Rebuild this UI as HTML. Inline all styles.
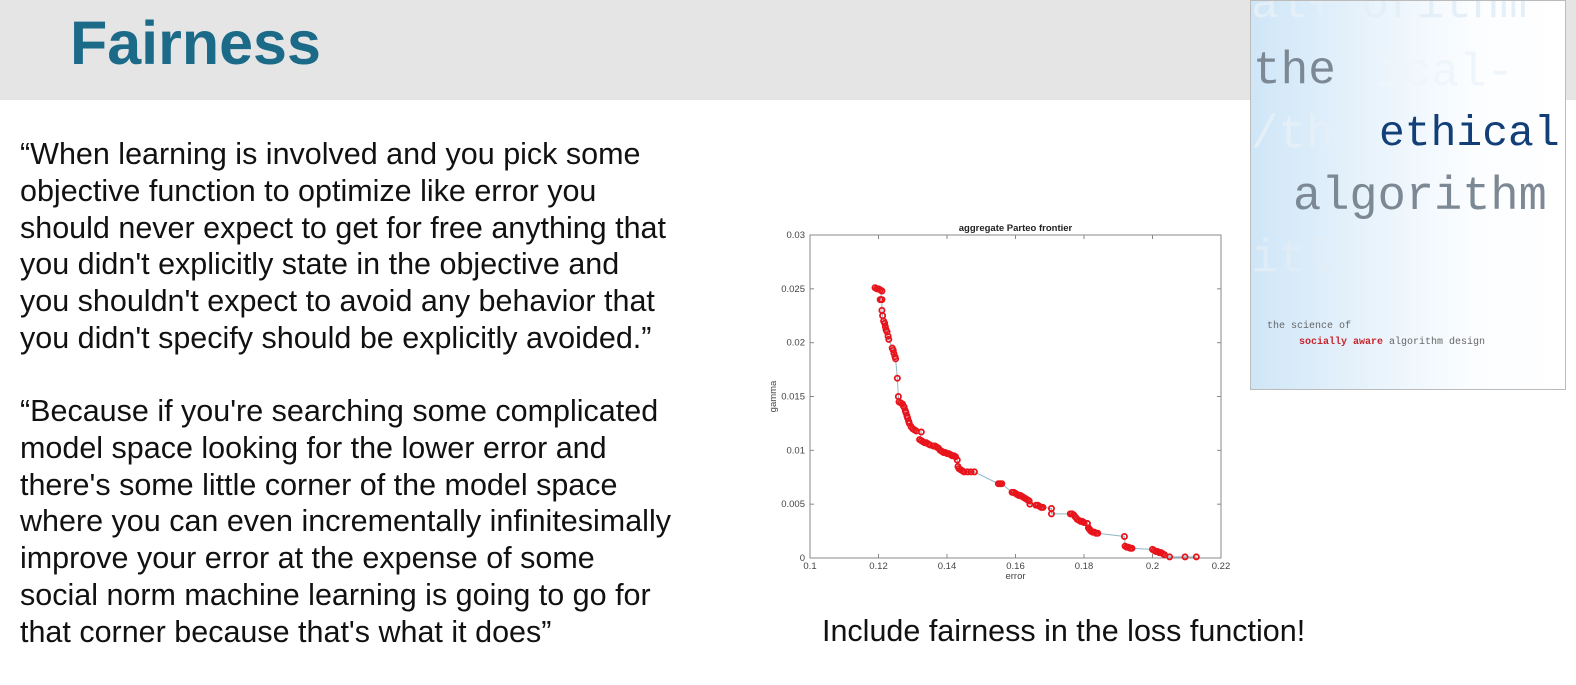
<!DOCTYPE html>
<html><head><meta charset="utf-8"><style>
body{margin:0;width:1576px;height:685px;background:#fff;position:relative;overflow:hidden;font-family:"Liberation Sans",sans-serif}
.hdr{position:absolute;left:0;top:0;width:1576px;height:100px;background:#e5e5e5}
.title{position:absolute;left:70px;top:8px;font-size:61px;font-weight:bold;color:#1b6a88}
.q{position:absolute;left:20px;font-size:30.5px;line-height:36.8px;color:#111;white-space:nowrap}
.cap{position:absolute;left:822px;top:614px;font-size:30.5px;color:#111;white-space:nowrap}
.book{position:absolute;left:1250px;top:0;width:314px;height:388px;border:1px solid #bbb;background:linear-gradient(90deg,#cfe6f7 0%,#e6f2fb 35%,#fbfdff 70%,#fff 100%);overflow:hidden;font-family:"Liberation Mono",monospace}
.book div{position:absolute;white-space:nowrap}
</style></head><body>
<div class="hdr"></div>
<div class="title">Fairness</div>
<div class="q" style="top:136px">“When learning is involved and you pick some<br>objective function to optimize like error you<br>should never expect to get for free anything that<br>you didn't explicitly state in the objective and<br>you shouldn't expect to avoid any behavior that<br>you didn't specify should be explicitly avoided.”</div>
<div class="q" style="top:393px">“Because if you're searching some complicated<br>model space looking for the lower error and<br>there's some little corner of the model space<br>where you can even incrementally infinitesimally<br>improve your error at the expense of some<br>social norm machine learning is going to go for<br>that corner because that's what it does”</div>
<div class="cap">Include fairness in the loss function!</div>
<div class="book">
<div style="left:0;top:-22px;font-size:46px;color:#e4eff8">al+ orithm</div>
<div style="left:2px;top:44px;font-size:46px;color:#7c8894">the</div>
<div style="left:125px;top:46px;font-size:46px;color:#eef5fb">ical-</div>
<div style="left:128px;top:108px;font-size:43px;color:#123f78">ethical</div>
<div style="left:0;top:108px;font-size:46px;color:#e4eff8">/th</div>
<div style="left:42px;top:170px;font-size:47px;color:#7c8894">algorithm</div>
<div style="left:0;top:232px;font-size:46px;color:#e0ecf6">itl</div>
<div style="left:16px;top:320px;font-size:10px;color:#666">the science of</div>
<div style="left:48px;top:336px;font-size:10px;color:#666"><b style="color:#c9242b">socially aware</b> algorithm design</div>
</div>
<svg id="chart" style="position:absolute;left:0;top:0" width="1576" height="685"></svg>
<script>
const xTicks=[0.1,0.12,0.14,0.16,0.18,0.2,0.22];
const xTickLabels=["0.1","0.12","0.14","0.16","0.18","0.2","0.22"];
const yTicks=[0,0.005,0.01,0.015,0.02,0.025,0.03];
const yTickLabels=["0","0.005","0.01","0.015","0.02","0.025","0.03"];
const errorVals=[0.119,0.1195,0.12,0.1205,0.121,0.1205,0.121,0.121,0.1212,0.1215,0.1218,0.122,0.1222,0.1225,0.1228,0.123,0.124,0.1243,0.1245,0.1248,0.125,0.1255,0.1258,0.126,0.1265,0.127,0.1273,0.1275,0.1278,0.128,0.1283,0.1285,0.1288,0.129,0.1295,0.13,0.1305,0.131,0.1325,0.132,0.1325,0.133,0.1335,0.134,0.1345,0.135,0.136,0.1365,0.137,0.1375,0.138,0.1385,0.139,0.1395,0.14,0.1405,0.141,0.1415,0.142,0.1425,0.143,0.1432,0.1435,0.144,0.1445,0.145,0.146,0.147,0.148,0.155,0.1555,0.156,0.159,0.1595,0.16,0.1605,0.161,0.1615,0.162,0.1625,0.163,0.1635,0.164,0.1642,0.166,0.1665,0.167,0.1675,0.168,0.1705,0.1705,0.176,0.1765,0.177,0.1775,0.178,0.1785,0.179,0.1795,0.18,0.181,0.1813,0.1815,0.1818,0.182,0.1825,0.183,0.1835,0.184,0.1918,0.192,0.1925,0.193,0.1935,0.194,0.2,0.2005,0.201,0.2015,0.202,0.2025,0.203,0.2035,0.205,0.2095,0.2128];
const gammaVals=[0.0251,0.025,0.025,0.0249,0.0248,0.024,0.024,0.023,0.0225,0.022,0.0218,0.0215,0.0212,0.021,0.0206,0.0203,0.0195,0.0193,0.019,0.0187,0.0185,0.0167,0.015,0.0145,0.0144,0.0143,0.0141,0.014,0.0137,0.0135,0.0132,0.013,0.0127,0.0125,0.0122,0.012,0.0119,0.0118,0.0117,0.011,0.0109,0.0108,0.0107,0.0107,0.0106,0.0105,0.0104,0.0104,0.0103,0.0102,0.01,0.0099,0.0098,0.0098,0.0097,0.0097,0.0096,0.0095,0.0095,0.0094,0.0091,0.0085,0.0083,0.0082,0.0081,0.008,0.008,0.008,0.008,0.0069,0.0069,0.0069,0.0061,0.0061,0.006,0.0059,0.0058,0.0058,0.0057,0.0056,0.0055,0.0054,0.0053,0.005,0.0049,0.0049,0.0048,0.0047,0.0047,0.0046,0.0041,0.0041,0.0041,0.004,0.0038,0.0036,0.0035,0.0034,0.0034,0.0033,0.0032,0.0028,0.0027,0.0026,0.0025,0.0024,0.0024,0.0023,0.0023,0.002,0.0011,0.001,0.001,0.0009,0.0009,0.0008,0.0007,0.0006,0.0006,0.0005,0.0005,0.0004,0.0003,0.0001,0.0001,0.0001];
const NS="http://www.w3.org/2000/svg";
const svg=document.getElementById('chart');
const X0=810,X1=1221,Y0=558,Y1=235;
const xS=v=>X0+(v-0.1)/(0.12)*(X1-X0);
const yS=v=>Y0-(v/0.03)*(Y0-Y1);
function mk(t,a){const e=document.createElementNS(NS,t);for(const k in a)e.setAttribute(k,a[k]);svg.appendChild(e);return e;}
const frame=mk('rect',{x:X0,y:Y1,width:X1-X0,height:Y0-Y1,fill:'#fff',stroke:'#888','stroke-width':1});


xTicks.forEach((v,i)=>{const x=xS(v);
mk('line',{x1:x,x2:x,y1:Y0,y2:Y0-4,stroke:'#888'});mk('line',{x1:x,x2:x,y1:Y1,y2:Y1+4,stroke:'#888'});
const t=mk('text',{x:x,y:Y0+11,'font-size':9.5,'text-anchor':'middle',fill:'#444','font-family':'Liberation Sans'});t.textContent=xTickLabels[i];

});
yTicks.forEach((v,i)=>{const y=yS(v);
mk('line',{x1:X0,x2:X0+4,y1:y,y2:y,stroke:'#888'});mk('line',{x1:X1,x2:X1-4,y1:y,y2:y,stroke:'#888'});
const t=mk('text',{x:X0-5,y:y+3,'font-size':9.5,'text-anchor':'end',fill:'#444','font-family':'Liberation Sans'});t.textContent=yTickLabels[i];

});
const tt=mk('text',{x:(X0+X1)/2,y:Y1-4,'font-size':9.5,'font-weight':'bold','text-anchor':'middle',fill:'#222','font-family':'Liberation Sans'});tt.textContent='aggregate Parteo frontier';


const xl=mk('text',{x:(X0+X1)/2,y:Y0+21,'font-size':9.5,'text-anchor':'middle',fill:'#444','font-family':'Liberation Sans'});xl.textContent='error';


const yl=mk('text',{x:0,y:0,'font-size':9.5,'text-anchor':'middle',fill:'#444','font-family':'Liberation Sans',transform:`translate(776,${(Y0+Y1)/2}) rotate(-90)`});yl.textContent='gamma';


const pts=errorVals.map((e,i)=>xS(e)+','+yS(gammaVals[i])).join(' ');
const ln=mk('polyline',{points:pts,fill:'none',stroke:'#8fb8c8','stroke-width':1});


errorVals.forEach((e,i)=>{const c=mk('circle',{cx:xS(e),cy:yS(gammaVals[i]),r:2.6,fill:'none',stroke:'#e8141c','stroke-width':1.8});

});
</script>
</body></html>
